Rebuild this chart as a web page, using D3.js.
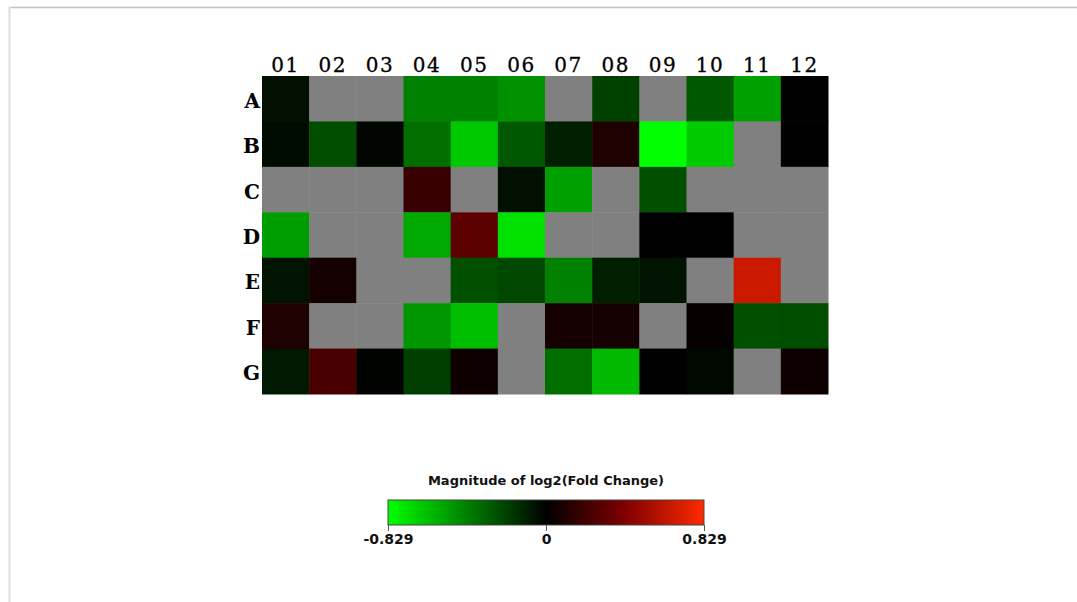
<!DOCTYPE html>
<html>
<head>
<meta charset="utf-8">
<script src="https://cdn.jsdelivr.net/npm/d3@7"></script>
<style>
  html, body { margin: 0; padding: 0; background: #fff; }
  svg { display: block; }
</style>
</head>
<body>
<svg id="chart" width="1077" height="602"></svg>
<script>
// ---- data ----
const columns = ["01","02","03","04","05","06","07","08","09","10","11","12"];
const rows = ["A","B","C","D","E","F","G"];
// log2 fold change per well, null = no data (grey)
const rowA = [-0.05, null, null, -0.415, -0.42, -0.47, null, -0.21, null, -0.29, -0.52, -0.003];
const rowB = [-0.04, -0.25, -0.015, -0.36, -0.65, -0.29, -0.10, 0.10, -0.829, -0.66, null, -0.003];
const rowC = [null, null, null, 0.18, null, -0.05, -0.52, null, -0.26, null, null, null];
const rowD = [-0.51, null, null, -0.55, 0.30, -0.73, null, null, -0.003, -0.003, null, null];
const rowE = [-0.065, 0.065, null, null, -0.26, -0.23, -0.42, -0.10, -0.065, null, 0.66, null];
const rowF = [0.10, null, null, -0.49, -0.62, null, 0.065, 0.065, null, 0.02, -0.26, -0.25];
const rowG = [-0.08, 0.235, -0.01, -0.20, 0.05, null, -0.36, -0.60, -0.003, -0.03, null, 0.05];
const matrix = [rowA, rowB, rowC, rowD, rowE, rowF, rowG];
const legendTitle = "Magnitude of log2(Fold Change)";
const legendMax = 0.829;
const legendTicks = [-0.829, 0, 0.829];
const legendTickLabels = ["-0.829", "0", "0.829"];

// ---- drawing ----
const svg = d3.select("#chart");

// page frame lines
svg.append("line").attr("x1", 9).attr("x2", 1077).attr("y1", 7.5).attr("y2", 7.5)
  .attr("stroke", "#c4c4c4").attr("stroke-width", 1.5);
svg.append("line").attr("x1", 9.5).attr("x2", 9.5).attr("y1", 7).attr("y2", 602)
  .attr("stroke", "#dedede").attr("stroke-width", 2);

const x = d3.scaleBand().domain(columns).range([262, 828]).padding(0);
const y = d3.scaleBand().domain(rows).range([76, 394]).padding(0);
const color = d3.scaleLinear()
  .domain([-legendMax, 0, legendMax / 2, legendMax])
  .range(["#00ff00", "#000000", "#800000", "#ff2a00"])
  .clamp(true);

const cells = [];
matrix.forEach((vals, i) => vals.forEach((v, j) => cells.push({ r: rows[i], c: columns[j], v })));

svg.append("g").selectAll("rect").data(cells).join("rect")
  .attr("x", d => x(d.c))
  .attr("y", d => y(d.r))
  .attr("width", x.bandwidth() + 0.5)
  .attr("height", y.bandwidth() + 0.5)
  .attr("fill", d => d.v === null ? "#808080" : color(d.v));

// column labels
const xAxis = svg.append("g").attr("transform", "translate(0,72)")
  .call(d3.axisTop(x).tickSize(0).tickPadding(0));
xAxis.select(".domain").remove();
xAxis.selectAll("text")
  .attr("font-family", "DejaVu Serif")
  .attr("font-size", 20)
  .attr("fill", "#000")
  .attr("dy", 0)
  .attr("letter-spacing", 1.5)
  .attr("stroke", "#000").attr("stroke-width", 0.3);

// row labels
const yAxis = svg.append("g").attr("transform", "translate(260,0)")
  .call(d3.axisLeft(y).tickSize(0).tickPadding(0));
yAxis.select(".domain").remove();
yAxis.selectAll("text")
  .attr("font-family", "DejaVu Serif")
  .attr("font-weight", "bold")
  .attr("font-size", 20)
  .attr("fill", "#000")
  .attr("dy", "0.45em");

// legend
const lx = d3.scaleLinear().domain([-legendMax, legendMax]).range([388, 704]);
const defs = svg.append("defs");
const grad = defs.append("linearGradient").attr("id", "lg")
  .attr("x1", "0%").attr("x2", "100%").attr("y1", "0%").attr("y2", "0%");
d3.range(0, 1.0001, 0.05).forEach(t => {
  grad.append("stop").attr("offset", (t * 100) + "%")
    .attr("stop-color", color(-legendMax + t * 2 * legendMax));
});

svg.append("text")
  .attr("x", 546).attr("y", 485)
  .attr("text-anchor", "middle")
  .attr("font-family", "DejaVu Sans")
  .attr("font-weight", "bold")
  .attr("font-size", 13)
  .attr("fill", "#111")
  .text(legendTitle);

svg.append("rect")
  .attr("x", lx(-legendMax)).attr("y", 500)
  .attr("width", lx(legendMax) - lx(-legendMax)).attr("height", 25)
  .attr("fill", "url(#lg)")
  .attr("stroke", "#444").attr("stroke-width", 1);

const lAxis = svg.append("g").attr("transform", "translate(0,525)")
  .call(d3.axisBottom(lx).tickValues(legendTicks).tickSize(6).tickPadding(3)
    .tickFormat((d, i) => legendTickLabels[i]));
lAxis.select(".domain").remove();
lAxis.selectAll("line").attr("stroke", "#555");
lAxis.selectAll("text")
  .attr("font-family", "DejaVu Sans")
  .attr("font-weight", "bold")
  .attr("font-size", 14)
  .attr("fill", "#111");
</script>
</body>
</html>
